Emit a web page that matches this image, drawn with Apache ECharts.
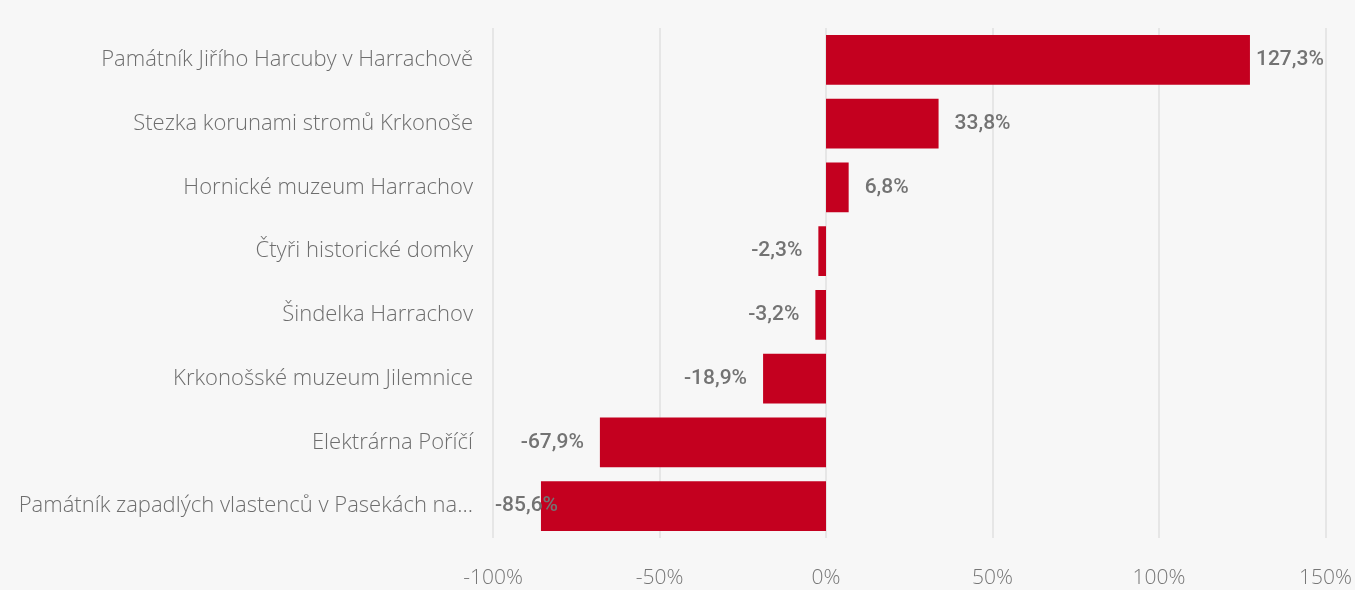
<!DOCTYPE html>
<html><head><meta charset="utf-8">
<script src="https://cdn.jsdelivr.net/npm/echarts@6/dist/echarts.min.js"></script>
<style>html,body{margin:0;padding:0;background:#f7f7f7}#c{width:1355px;height:590px}</style>
</head><body><div id="c"></div>
<script>
const categories = [
  "Památník Jiřího Harcuby v Harrachově",
  "Stezka korunami stromů Krkonoše",
  "Hornické muzeum Harrachov",
  "Čtyři historické domky",
  "Šindelka Harrachov",
  "Krkonošské muzeum Jilemnice",
  "Elektrárna Poříčí",
  "Památník zapadlých vlastenců v Pasekách nad Jizerou"
];
const changes = [127.3, 33.8, 6.8, -2.3, -3.2, -18.9, -67.9, -85.6];
const tickLabels = [-100, -50, 0, 50, 100, 150];

const fmt = v => (v < 0 ? '-' : '') + Math.abs(v).toFixed(1).replace('.', ',') + '%';
const labelFont = {fontFamily: 'Roboto', fontSize: 21, color: '#737373', fontWeight: 500};

const data = changes.map((v, i) => {
  const item = {value: v};
  if (v >= 0) {
    item.label = {position: 'right', distance: v > 100 ? 6 : 16};
  } else if (v < -80) {
    item.label = {position: 'insideLeft', distance: 0, offset: [-46, 0]};
  } else {
    item.label = {position: 'left', distance: 16};
  }
  return item;
});

const chart = echarts.init(document.getElementById('c'));
chart.setOption({
  backgroundColor: '#f7f7f7',
  animation: false,
  grid: {left: 493, right: 28, top: 28, bottom: 52, containLabel: false},
  xAxis: {
    type: 'value', min: tickLabels[0], max: tickLabels[tickLabels.length - 1], interval: 50,
    axisLine: {show: false}, axisTick: {show: false},
    splitLine: {show: true, lineStyle: {color: '#e6e6e6', width: 2}},
    axisLabel: {formatter: v => v + '%', color: '#777', fontSize: 21, fontFamily: 'Open Sans', fontWeight: 300, margin: 30}
  },
  yAxis: {
    type: 'category', data: categories, inverse: true,
    axisLine: {show: false}, axisTick: {show: false},
    axisLabel: {color: '#6e6e6e', fontSize: 22, fontFamily: 'Open Sans', fontWeight: 300, margin: 20,
      width: 505, overflow: 'truncate', ellipsis: '…'}
  },
  series: [{
    type: 'bar', data: data, barCategoryGap: '22%',
    itemStyle: {color: '#c4001f'},
    label: Object.assign({show: true, formatter: p => fmt(p.value)}, labelFont)
  }]
});
</script></body></html>
